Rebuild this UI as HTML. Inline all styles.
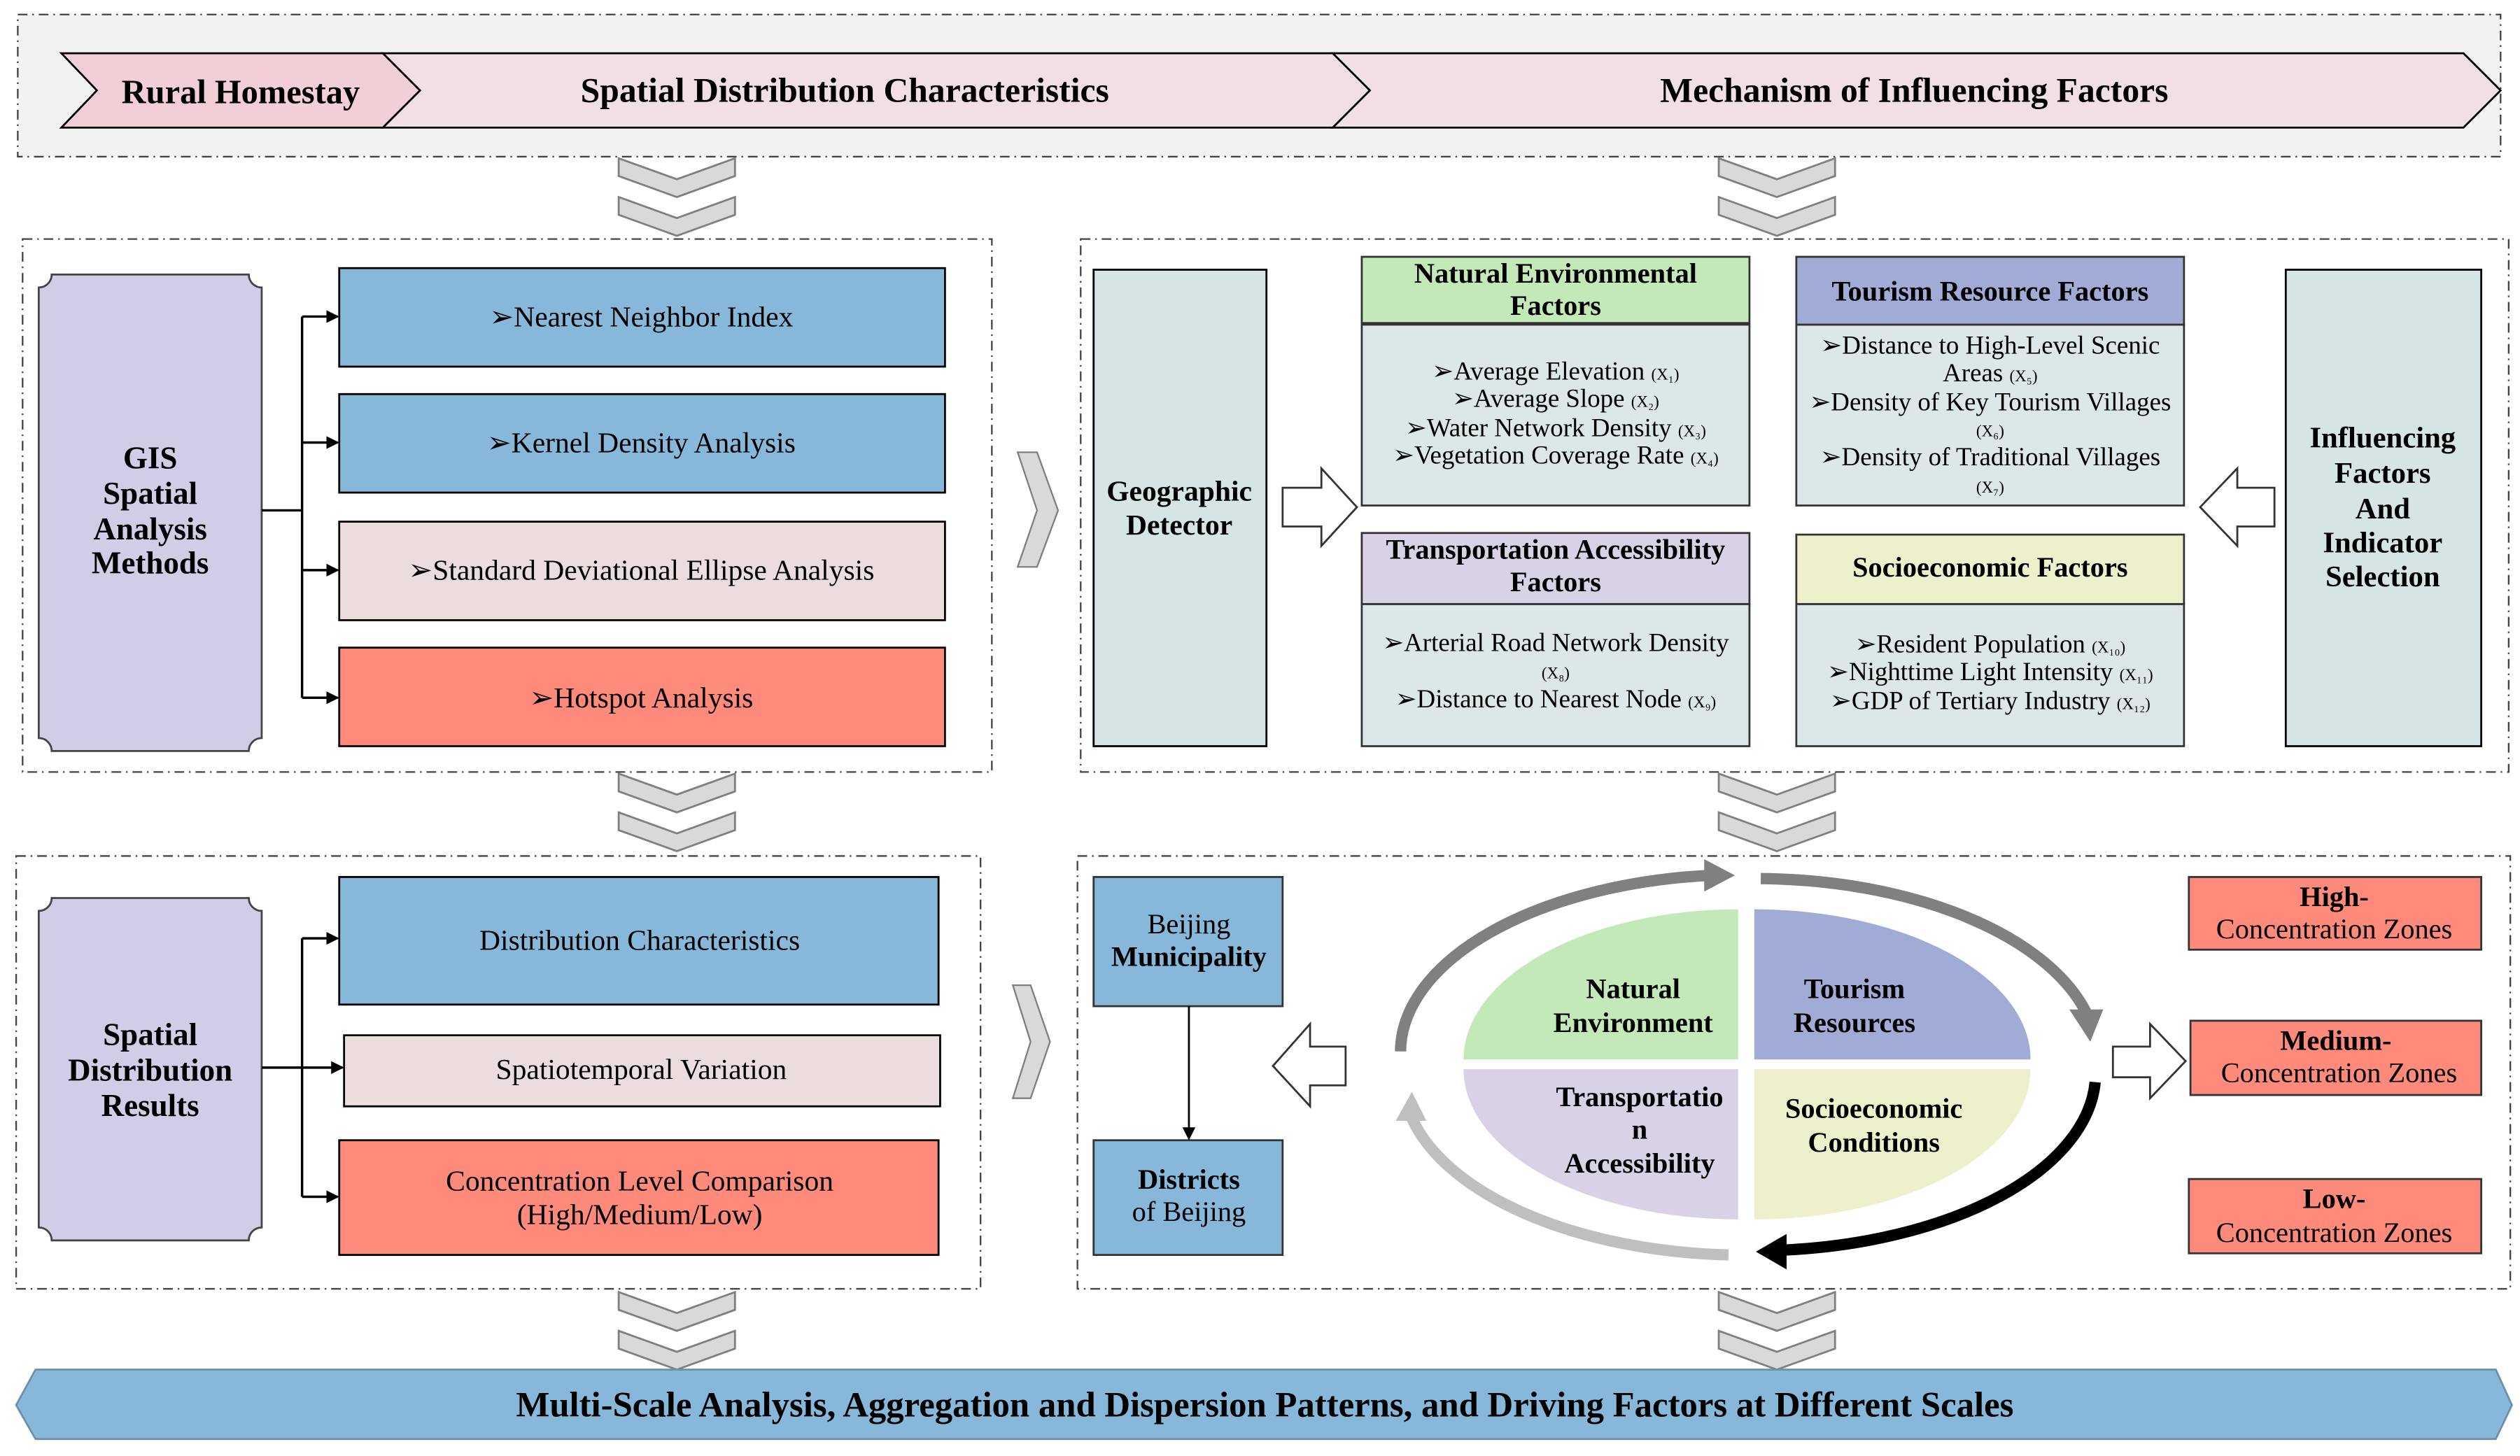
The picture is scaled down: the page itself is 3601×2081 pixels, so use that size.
<!DOCTYPE html>
<html><head><meta charset="utf-8"><style>
html,body{margin:0;padding:0;background:#fff;}
svg{display:block;}
text{font-family:"Liberation Serif",serif;fill:#000;}
.b{font-weight:bold;}
</style></head><body>
<svg width="3601" height="2081" viewBox="0 0 1560 901.5" preserveAspectRatio="none" xmlns="http://www.w3.org/2000/svg">
<defs>
<g id="dch">
<polygon points="-36,0 0,13 36,0 36,11 0,24 -36,11" fill="#d9d9d9" stroke="#7f7f7f" stroke-width="1.2"/>
<polygon points="-36,24 0,37 36,24 36,35 0,48 -36,35" fill="#d9d9d9" stroke="#7f7f7f" stroke-width="1.2"/>
</g>
<marker id="ah" markerWidth="8" markerHeight="8" refX="7" refY="4" orient="auto" markerUnits="userSpaceOnUse"><path d="M0,0 L8,4 L0,8 z" fill="#000"/></marker>
</defs>

<!-- top band -->
<rect x="11" y="9" width="1537" height="88" fill="#f2f2f2" stroke="#444" stroke-width="1" stroke-dasharray="6,3,1,3"/>
<polygon points="825,33 1525,33 1548,56 1525,79 825,79 848,56" fill="#f0dfe4" stroke="#000" stroke-width="1.2"/>
<polygon points="237,33 825,33 848,56 825,79 237,79 260,56" fill="#f0dfe4" stroke="#000" stroke-width="1.2"/>
<polygon points="38,33 237,33 260,56 237,79 38,79 60,56" fill="#f2cfd6" stroke="#000" stroke-width="1.2"/>
<text x="149" y="64" font-size="21" class="b" text-anchor="middle">Rural Homestay</text>
<text x="523" y="63" font-size="21.5" class="b" text-anchor="middle">Spatial Distribution Characteristics</text>
<text x="1185" y="63" font-size="21.5" class="b" text-anchor="middle">Mechanism of Influencing Factors</text>

<use href="#dch" x="419" y="98"/>
<use href="#dch" x="1100" y="98"/>
<use href="#dch" x="419" y="479"/>
<use href="#dch" x="1100" y="479"/>
<use href="#dch" x="419" y="800"/>
<use href="#dch" x="1100" y="800"/>

<!-- left middle -->
<rect x="14" y="148" width="600" height="330" fill="#fff" stroke="#444" stroke-width="1" stroke-dasharray="6,3,1,3"/>
<path d="M32,170 L154,170 A8,8 0 0 0 162,178 L162,457 A8,8 0 0 0 154,465 L32,465 A8,8 0 0 0 24,457 L24,178 A8,8 0 0 0 32,170 Z" fill="#d0cde6" stroke="#444" stroke-width="1.2"/>
<g font-size="19.5" class="b" text-anchor="middle">
<text x="93" y="290">GIS</text>
<text x="93" y="312">Spatial</text>
<text x="93" y="334">Analysis</text>
<text x="93" y="355">Methods</text>
</g>
<g stroke="#000" stroke-width="1.5" fill="none">
<line x1="162" y1="316" x2="187" y2="316"/>
<line x1="187" y1="196" x2="187" y2="432"/>
<line x1="187" y1="196" x2="209" y2="196" marker-end="url(#ah)"/>
<line x1="187" y1="274" x2="209" y2="274" marker-end="url(#ah)"/>
<line x1="187" y1="353" x2="209" y2="353" marker-end="url(#ah)"/>
<line x1="187" y1="432" x2="209" y2="432" marker-end="url(#ah)"/>
</g>
<rect x="210" y="166" width="375" height="61" fill="#87b8d9" stroke="#000" stroke-width="1.2"/>
<rect x="210" y="244" width="375" height="61" fill="#87b8d9" stroke="#000" stroke-width="1.2"/>
<rect x="210" y="323" width="375" height="61" fill="#ebdcdd" stroke="#000" stroke-width="1.2"/>
<rect x="210" y="401" width="375" height="61" fill="#fd8a7b" stroke="#000" stroke-width="1.2"/>
<g font-size="18" text-anchor="middle">
<text x="397" y="202">➢Nearest Neighbor Index</text>
<text x="397" y="280">➢Kernel Density Analysis</text>
<text x="397" y="359">➢Standard Deviational Ellipse Analysis</text>
<text x="397" y="438">➢Hotspot Analysis</text>
</g>
<polygon points="630,280 642,280 655,316 642,351 630,351 642,316" fill="#d9d9d9" stroke="#7f7f7f" stroke-width="1"/>

<!-- right middle -->
<rect x="669" y="148" width="884" height="330" fill="#fff" stroke="#444" stroke-width="1" stroke-dasharray="6,3,1,3"/>
<rect x="677" y="167" width="107" height="295" fill="#d5e4e4" stroke="#000" stroke-width="1.2"/>
<text x="730" y="310" font-size="18" class="b" text-anchor="middle">Geographic</text>
<text x="730" y="331" font-size="18" class="b" text-anchor="middle">Detector</text>
<polygon points="794,302 818,302 818,290 840,314 818,338 818,326 794,326" fill="#fff" stroke="#333" stroke-width="1.2"/>
<polygon points="1408,302 1385,302 1385,290 1362,314 1385,338 1385,326 1408,326" fill="#fff" stroke="#333" stroke-width="1.2"/>
<rect x="1415" y="167" width="121" height="295" fill="#d5e4e4" stroke="#000" stroke-width="1.2"/>
<g font-size="18.5" class="b" text-anchor="middle">
<text x="1475" y="277">Influencing</text><text x="1475" y="299">Factors</text><text x="1475" y="321">And</text><text x="1475" y="342">Indicator</text><text x="1475" y="363">Selection</text>
</g>
<rect x="843" y="201" width="240" height="112" fill="#dbe7e8" stroke="#333" stroke-width="1.2"/>
<rect x="843" y="159" width="240" height="41" fill="#c3e9b8" stroke="#333" stroke-width="1.2"/>
<rect x="1112" y="201" width="240" height="112" fill="#dbe7e8" stroke="#333" stroke-width="1.2"/>
<rect x="1112" y="159" width="240" height="42" fill="#a1acd6" stroke="#333" stroke-width="1.2"/>
<rect x="843" y="374" width="240" height="88" fill="#dbe7e8" stroke="#333" stroke-width="1.2"/>
<rect x="843" y="330" width="240" height="44" fill="#d9d1e5" stroke="#333" stroke-width="1.2"/>
<rect x="1112" y="374" width="240" height="88" fill="#dbe7e8" stroke="#333" stroke-width="1.2"/>
<rect x="1112" y="331" width="240" height="43" fill="#eeefcb" stroke="#333" stroke-width="1.2"/>
<g font-size="17.5" class="b" text-anchor="middle">
<text x="963" y="175">Natural Environmental</text><text x="963" y="195">Factors</text>
<text x="1232" y="186">Tourism Resource Factors</text>
<text x="963" y="346">Transportation Accessibility</text><text x="963" y="366">Factors</text>
<text x="1232" y="357">Socioeconomic Factors</text>
</g>
<g font-size="16" text-anchor="middle">
<text x="963" y="235">➢Average Elevation <tspan font-size="10">(X₁)</tspan></text>
<text x="963" y="252">➢Average Slope <tspan font-size="10">(X₂)</tspan></text>
<text x="963" y="270">➢Water Network Density <tspan font-size="10">(X₃)</tspan></text>
<text x="963" y="287">➢Vegetation Coverage Rate <tspan font-size="10">(X₄)</tspan></text>
<text x="1232" y="219">➢Distance to High-Level Scenic</text>
<text x="1232" y="236">Areas <tspan font-size="10">(X₅)</tspan></text>
<text x="1232" y="254">➢Density of Key Tourism Villages</text>
<text x="1232" y="270" font-size="10">(X₆)</text>
<text x="1232" y="288">➢Density of Traditional Villages</text>
<text x="1232" y="305" font-size="10">(X₇)</text>
<text x="963" y="403">➢Arterial Road Network Density</text>
<text x="963" y="420" font-size="10">(X₈)</text>
<text x="963" y="438">➢Distance to Nearest Node <tspan font-size="10">(X₉)</tspan></text>
<text x="1232" y="404">➢Resident Population <tspan font-size="10">(X₁₀)</tspan></text>
<text x="1232" y="421">➢Nighttime Light Intensity <tspan font-size="10">(X₁₁)</tspan></text>
<text x="1232" y="439">➢GDP of Tertiary Industry <tspan font-size="10">(X₁₂)</tspan></text>
</g>

<!-- bottom left -->
<rect x="10" y="530" width="597" height="268" fill="#fff" stroke="#444" stroke-width="1" stroke-dasharray="6,3,1,3"/>
<path d="M32,556 L154,556 A8,8 0 0 0 162,564 L162,760 A8,8 0 0 0 154,768 L32,768 A8,8 0 0 0 24,760 L24,564 A8,8 0 0 0 32,556 Z" fill="#d0cde6" stroke="#444" stroke-width="1.2"/>
<g font-size="19.5" class="b" text-anchor="middle">
<text x="93" y="647">Spatial</text>
<text x="93" y="669">Distribution</text>
<text x="93" y="691">Results</text>
</g>
<g stroke="#000" stroke-width="1.5" fill="none">
<line x1="162" y1="661" x2="212" y2="661" marker-end="url(#ah)"/>
<line x1="187" y1="581" x2="187" y2="741"/>
<line x1="187" y1="581" x2="209" y2="581" marker-end="url(#ah)"/>
<line x1="187" y1="741" x2="209" y2="741" marker-end="url(#ah)"/>
</g>
<rect x="210" y="543" width="371" height="79" fill="#87b8d9" stroke="#000" stroke-width="1.2"/>
<rect x="213" y="641" width="369" height="44" fill="#ebdcdd" stroke="#000" stroke-width="1.2"/>
<rect x="210" y="706" width="371" height="71" fill="#fd8a7b" stroke="#000" stroke-width="1.2"/>
<g font-size="18" text-anchor="middle">
<text x="396" y="588">Distribution Characteristics</text>
<text x="397" y="668">Spatiotemporal Variation</text>
<text x="396" y="737">Concentration Level Comparison</text>
<text x="396" y="758">(High/Medium/Low)</text>
</g>
<polygon points="627,610 638,610 650,645 638,680 627,680 638,645" fill="#d9d9d9" stroke="#7f7f7f" stroke-width="1"/>

<!-- bottom right -->
<rect x="667" y="530" width="887" height="268" fill="#fff" stroke="#444" stroke-width="1" stroke-dasharray="6,3,1,3"/>
<rect x="677" y="543" width="117" height="80" fill="#87b8d9" stroke="#333" stroke-width="1.2"/>
<rect x="677" y="706" width="117" height="71" fill="#87b8d9" stroke="#333" stroke-width="1.2"/>
<text x="736" y="578" font-size="17.5" text-anchor="middle">Beijing</text>
<text x="736" y="598" font-size="17.5" class="b" text-anchor="middle">Municipality</text>
<text x="736" y="736" font-size="17.5" class="b" text-anchor="middle">Districts</text>
<text x="736" y="756" font-size="17.5" text-anchor="middle">of Beijing</text>
<line x1="736" y1="623" x2="736" y2="705" stroke="#000" stroke-width="1.2" marker-end="url(#ah)"/>
<polygon points="833,648 811,648 811,634 788,660 811,685 811,672 833,672" fill="#fff" stroke="#333" stroke-width="1.2"/>
<polygon points="1308,648 1331,648 1331,634 1353,657 1331,680 1331,667 1308,667" fill="#fff" stroke="#333" stroke-width="1.2"/>

<path d="M1076,656 L906,656 A170,93 0 0 1 1076,563 Z" fill="#c3e9b8"/>
<path d="M1086,656 L1086,563 A171,93 0 0 1 1257,656 Z" fill="#a1acd6"/>
<path d="M1076,662 L1076,755 A170,93 0 0 1 906,662 Z" fill="#d9d1e5"/>
<path d="M1086,662 L1257,662 A171,93 0 0 1 1086,755 Z" fill="#eeefcb"/>
<g font-size="17.5" class="b" text-anchor="middle">
<text x="1011" y="618">Natural</text><text x="1011" y="639">Environment</text>
<text x="1148" y="618">Tourism</text><text x="1148" y="639">Resources</text>
<text x="1015" y="685">Transportatio</text><text x="1015" y="705">n</text><text x="1015" y="726">Accessibility</text>
<text x="1160" y="692">Socioeconomic</text><text x="1160" y="713">Conditions</text>
</g>
<!-- ring arrows -->
<path d="M867,651 A212,110 0 0 1 1058,542" fill="none" stroke="#808080" stroke-width="7"/>
<polygon points="1055,532 1074,542 1055,552" fill="#808080"/>
<path d="M1090,544 A212,112 0 0 1 1292,628" fill="none" stroke="#808080" stroke-width="7"/>
<polygon points="1281,625 1302,625 1294,645" fill="#808080"/>
<path d="M1297,670 A212,110 0 0 1 1104,774" fill="none" stroke="#000" stroke-width="7"/>
<polygon points="1106,764 1087,775 1106,786" fill="#000"/>
<path d="M1070,777 A212,110 0 0 1 873,690" fill="none" stroke="#bfbfbf" stroke-width="7"/>
<polygon points="864,694 883,694 874,676" fill="#bfbfbf"/>

<rect x="1355" y="543" width="181" height="45" fill="#fd8a7b" stroke="#333" stroke-width="1.2"/>
<rect x="1356" y="632" width="180" height="46" fill="#fd8a7b" stroke="#333" stroke-width="1.2"/>
<rect x="1355" y="730" width="181" height="46" fill="#fd8a7b" stroke="#333" stroke-width="1.2"/>
<g font-size="17.5" text-anchor="middle">
<text x="1445" y="561" class="b">High-</text><text x="1445" y="581">Concentration Zones</text>
<text x="1446" y="650" class="b">Medium-</text><text x="1448" y="670">Concentration Zones</text>
<text x="1445" y="748" class="b">Low-</text><text x="1445" y="769">Concentration Zones</text>
</g>

<!-- bottom banner -->
<polygon points="10,870 22,848 1545,848 1555,870 1545,891 22,891" fill="#87b8d9" stroke="#6f8fa8" stroke-width="1.2"/>
<text x="783" y="877" font-size="22" class="b" text-anchor="middle">Multi-Scale Analysis, Aggregation and Dispersion Patterns, and Driving Factors at Different Scales</text>
</svg>
</body></html>
